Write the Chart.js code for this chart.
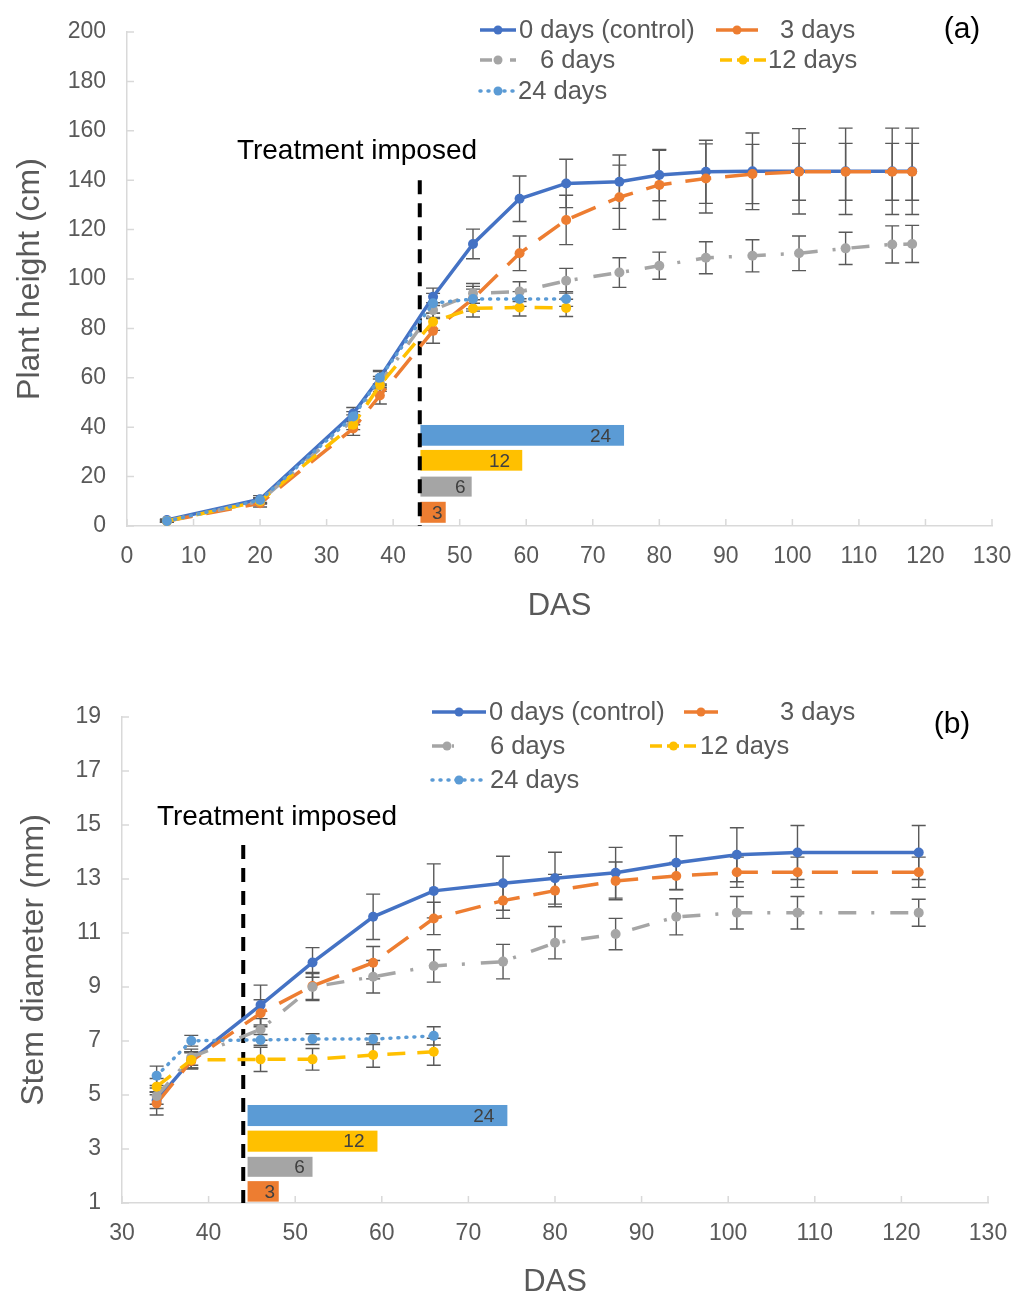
<!DOCTYPE html>
<html>
<head>
<meta charset="utf-8">
<script src="https://cdn.jsdelivr.net/npm/chart.js@4/dist/chart.umd.min.js"></script>
<style>
  body { margin: 0; background: #fff; }
  canvas { display: block; }
</style>
</head>
<body>
<canvas id="chartA" width="1018" height="650"></canvas>
<canvas id="chartB" width="1018" height="651"></canvas>
<script>
"use strict";

var seriesNames = ['0 days (control)', '3 days', '6 days', '12 days', '24 days'];

// (a) plant height, cm
var dasA = [6, 20, 34, 38, 46, 52, 59, 66, 74, 80, 87, 94, 101, 108, 115, 118];
var heightCtrl = [2.4, 10.8, 45.5, 60, 92.8, 114.2, 132.5, 138.7, 139.4, 142.1, 143.4, 143.6, 143.6, 143.6, 143.6, 143.6];
var height3 = [2, 9.2, 39.5, 52.8, 79, 92, 110.4, 123.9, 133.1, 138.1, 140.7, 142.5, 143.4, 143.4, 143.4, 143.4];
var height6 = [2, 10, 43, 58, 87.4, 94.2, 94.9, 99.3, 102.6, 105.4, 108.6, 109.4, 110.4, 112.4, 114, 114.2];
var height12 = [2, 10, 41, 57, 82.7, 88.1, 88.5, 88.3];
var height24 = [2, 10.5, 44.3, 60, 90.2, 91.9, 91.9, 91.9];
var errCtrlA = [0.5, 1.5, 2.5, 3, 3.5, 6, 9.2, 9.8, 10.8, 10.4, 12.8, 15.5, 17.3, 17.5, 17.5, 17.5];
var err3A = [0.5, 1.5, 2.8, 3.4, 5, 5, 7, 10, 13, 14, 14, 12, 11.5, 11.5, 11.5, 11.5];
var err6A = [0.5, 1, 2, 2.5, 3, 4, 4, 5, 6, 5.5, 6.5, 6.5, 7, 6.5, 7.5, 7.5];
var err12A = [0.5, 1, 2, 2.5, 3.5, 3.5, 3.5, 3.5];
var err24A = [0.5, 1, 2, 2.5, 4, 4, 3, 3];

// (b) stem diameter, mm
var dasB = [34, 38, 46, 52, 59, 66, 74, 80, 87, 94, 101, 108, 122];
var diamCtrl = [4.8, 6.3, 8.33, 9.91, 11.6, 12.56, 12.84, 13.03, 13.23, 13.6, 13.9, 13.98, 13.98];
var diam3 = [4.69, 6.26, 8.03, 9.04, 9.9, 11.54, 12.2, 12.57, 12.93, 13.11, 13.25, 13.25, 13.25];
var diam6 = [4.96, 6.4, 7.43, 9.0, 9.38, 9.78, 9.94, 10.64, 10.96, 11.6, 11.75, 11.75, 11.75];
var diam12 = [5.31, 6.3, 6.32, 6.32, 6.48, 6.6];
var diam24 = [5.71, 7.01, 7.04, 7.07, 7.07, 7.19];
var errCtrlB = [0.3, 0.3, 0.74, 0.55, 0.84, 1.0, 1.0, 0.96, 0.94, 1.0, 1.0, 1.0, 1.0];
var err3B = [0.43, 0.3, 0.5, 0.5, 0.6, 0.6, 0.66, 0.6, 0.7, 0.5, 0.56, 0.56, 0.56];
var err6B = [0.3, 0.3, 0.4, 0.5, 0.6, 0.6, 0.64, 0.6, 0.58, 0.67, 0.6, 0.6, 0.5];
var err12B = [0.3, 0.3, 0.45, 0.4, 0.45, 0.5];
var err24B = [0.36, 0.2, 0.2, 0.2, 0.2, 0.34];

// treatment duration bars (days), drawn from the day treatment was imposed
var treatDay = 44;
var barLabels = ['24', '12', '6', '3'];
var barStartA = 44.1;
var barEndA = [74.7, 59.4, 51.8, 47.9];
var barLowA = [32.5, 22.4, 11.9, 1.3];
var barHighA = [40.9, 30.8, 20, 9.8];
var barStartB = 44.5;
var barEndB = [74.5, 59.5, 52, 48.1];
var barLowB = [3.85, 2.9, 1.97, 1.05];
var barHighB = [4.63, 3.68, 2.71, 1.81];

var lineStyles = [
  { color: '#4472C4', dash: [], legendDash: [], cap: 'butt' },
  { color: '#ED7D31', dash: [26, 14], legendDash: [], cap: 'butt' },
  { color: '#A5A5A5', dash: [18, 15, 3, 16], legendDash: [12, 8, 2, 8], cap: 'butt' },
  { color: '#FFC000', dash: [18, 12], legendDash: [12, 5], cap: 'butt' },
  { color: '#5B9BD5', dash: [1, 7], legendDash: [1, 7], cap: 'round' }
];
var barColors = ['#5B9BD5', '#FFC000', '#A5A5A5', '#ED7D31'];
var FONT = '"Liberation Sans", Arial, sans-serif';
Chart.defaults.font.family = FONT;

function toPoints(xs, ys) {
  return ys.map(function(v, i) { return { x: xs[i], y: v }; });
}

function buildDatasets(xs, series) {
  return series.map(function(vals, i) {
    var st = lineStyles[i];
    return {
      label: seriesNames[i],
      data: toPoints(xs, vals),
      borderColor: st.color,
      backgroundColor: st.color,
      borderWidth: 3.5,
      borderDash: st.dash,
      borderCapStyle: st.cap,
      pointRadius: 5,
      pointBorderWidth: 0,
      pointBackgroundColor: st.color,
      tension: 0,
      order: 5 - i
    };
  });
}

// error bars, treatment line/bars, legend and labels
function decorPlugin(cfg) {
  return {
    id: 'decor',
    beforeDatasetsDraw: function(chart) {
      var ctx = chart.ctx, xs = chart.scales.x, ys = chart.scales.y;
      ctx.save();
      // duration bars
      for (var i = 0; i < barLabels.length; i++) {
        var x0 = xs.getPixelForValue(cfg.barStart), x1 = xs.getPixelForValue(cfg.barEnd[i]);
        var y0 = ys.getPixelForValue(cfg.barHigh[i]), y1 = ys.getPixelForValue(cfg.barLow[i]);
        ctx.fillStyle = barColors[i];
        ctx.fillRect(x0, y0, x1 - x0, y1 - y0);
        ctx.fillStyle = '#404040';
        ctx.font = '19px ' + FONT;
        ctx.textAlign = 'right';
        ctx.textBaseline = 'middle';
        var pad = Math.min(13, (x1 - x0) * 0.12);
        ctx.fillText(barLabels[i], x1 - pad, (y0 + y1) / 2 + 1);
      }
      // treatment imposed line
      var tx = xs.getPixelForValue(treatDay);
      ctx.strokeStyle = '#000';
      ctx.lineWidth = 4;
      ctx.setLineDash([14, 9]);
      ctx.beginPath();
      ctx.moveTo(tx, ys.getPixelForValue(cfg.lineTop));
      ctx.lineTo(tx, ys.bottom);
      ctx.stroke();
      ctx.setLineDash([]);
      ctx.fillStyle = '#000';
      ctx.font = '28px ' + FONT;
      ctx.textAlign = 'center';
      ctx.textBaseline = 'middle';
      ctx.fillText('Treatment imposed', cfg.treatText[0], cfg.treatText[1]);
      // error bars
      ctx.strokeStyle = '#595959';
      ctx.lineWidth = 1.4;
      cfg.errs.forEach(function(errs, s) {
        var vals = cfg.series[s];
        errs.forEach(function(e, k) {
          var px = xs.getPixelForValue(cfg.das[k]);
          var top = ys.getPixelForValue(vals[k] + e), bot = ys.getPixelForValue(vals[k] - e);
          ctx.beginPath();
          ctx.moveTo(px, top); ctx.lineTo(px, bot);
          ctx.moveTo(px - 7, top); ctx.lineTo(px + 7, top);
          ctx.moveTo(px - 7, bot); ctx.lineTo(px + 7, bot);
          ctx.stroke();
        });
      });
      ctx.restore();
    },
    afterDraw: function(chart) {
      var ctx = chart.ctx, xs = chart.scales.x, ys = chart.scales.y;
      ctx.save();
      // inside tick marks
      ctx.strokeStyle = '#d9d9d9';
      ctx.lineWidth = 1.5;
      ctx.beginPath();
      xs.ticks.forEach(function(t) {
        var p = xs.getPixelForValue(t.value);
        ctx.moveTo(p, ys.bottom); ctx.lineTo(p, ys.bottom - 7);
      });
      ys.ticks.forEach(function(t) {
        var p = ys.getPixelForValue(t.value);
        ctx.moveTo(xs.left, p); ctx.lineTo(xs.left + 7, p);
      });
      ctx.stroke();
      // legend
      ctx.font = '25.5px ' + FONT;
      ctx.textBaseline = 'middle';
      ctx.textAlign = 'left';
      cfg.legend.forEach(function(it, i) {
        var st = lineStyles[i];
        ctx.strokeStyle = st.color;
        ctx.lineWidth = 3.5;
        ctx.lineCap = st.cap;
        ctx.setLineDash(st.legendDash);
        ctx.beginPath();
        ctx.moveTo(it[0], it[2]); ctx.lineTo(it[1], it[2]);
        ctx.stroke();
        ctx.setLineDash([]);
        ctx.fillStyle = st.color;
        ctx.beginPath();
        ctx.arc((it[0] + it[1]) / 2, it[2], 4.5, 0, Math.PI * 2);
        ctx.fill();
        ctx.fillStyle = '#595959';
        ctx.fillText(seriesNames[i], it[3], it[2] + 1);
      });
      ctx.fillStyle = '#000';
      ctx.font = '30px ' + FONT;
      ctx.textAlign = 'center';
      ctx.fillText(cfg.tag, cfg.tagPos[0], cfg.tagPos[1]);
      ctx.restore();
    }
  };
}

function buildOptions(p) {
  return {
    responsive: false,
    animation: false,
    devicePixelRatio: 1,
    layout: { padding: { top: p.padTop, right: p.padRight, left: 0, bottom: 0 } },
    plugins: { legend: { display: false }, tooltip: { enabled: false } },
    scales: {
      x: {
        type: 'linear', min: p.xMin, max: p.xMax,
        ticks: { stepSize: 10, autoSkip: false, maxRotation: 0, color: '#595959', font: { size: 23 }, padding: 17 },
        grid: { display: false, drawTicks: false },
        border: { color: '#d9d9d9', width: 1.5 },
        title: { display: true, text: 'DAS', color: '#595959', font: { size: 31 }, padding: { top: 0, bottom: p.xTitlePad } },
        afterFit: function(s) { s.height = p.xHeight; s.paddingLeft = 0; s.paddingRight = 0; }
      },
      y: {
        type: 'linear', min: p.yMin, max: p.yMax,
        ticks: { stepSize: p.yStep, autoSkip: false, color: '#595959', font: { size: 23 }, padding: 21 },
        grid: { display: false, drawTicks: false },
        border: { color: '#d9d9d9', width: 1.5 },
        title: { display: true, text: p.yTitle, color: '#595959', font: { size: 32 }, padding: { top: p.yTitlePad, bottom: 0 } },
        afterFit: function(s) { s.width = p.yWidth; s.paddingTop = 0; s.paddingBottom = 0; }
      }
    }
  };
}

new Chart(document.getElementById('chartA'), {
  type: 'line',
  data: { datasets: buildDatasets(dasA, [heightCtrl, height3, height6, height12, height24]) },
  options: buildOptions({ padTop: 32, padRight: 26, xMin: 0, xMax: 130, yMin: 0, yMax: 200, yStep: 20,
    yTitle: 'Plant height (cm)', xHeight: 124, yWidth: 127, xTitlePad: 25, yTitlePad: 11 }),
  plugins: [decorPlugin({
    das: dasA,
    series: [heightCtrl, height3, height6, height12, height24],
    errs: [errCtrlA, err3A, err6A, err12A, err24A],
    barStart: barStartA, barEnd: barEndA, barLow: barLowA, barHigh: barHighA,
    lineTop: 140, treatText: [357, 151],
    legend: [[480, 516, 30, 519], [716, 758, 30, 780], [480, 516, 60, 540], [720, 766, 60, 768], [480, 516, 91, 518]],
    tag: '(a)', tagPos: [962, 30]
  })]
});

new Chart(document.getElementById('chartB'), {
  type: 'line',
  data: { datasets: buildDatasets(dasB, [diamCtrl, diam3, diam6, diam12, diam24]) },
  options: buildOptions({ padTop: 67, padRight: 30, xMin: 30, xMax: 130, yMin: 1, yMax: 19, yStep: 2,
    yTitle: 'Stem diameter (mm)', xHeight: 98, yWidth: 122, xTitlePad: 0, yTitlePad: 15 }),
  plugins: [decorPlugin({
    das: dasB,
    series: [diamCtrl, diam3, diam6, diam12, diam24],
    errs: [errCtrlB, err3B, err6B, err12B, err24B],
    barStart: barStartB, barEnd: barEndB, barLow: barLowB, barHigh: barHighB,
    lineTop: 14.26, treatText: [277, 167],
    legend: [[432, 486, 62, 489], [684, 718, 62, 780], [432, 462, 96, 490], [650, 697, 96, 700], [432, 486, 130, 490]],
    tag: '(b)', tagPos: [952, 75]
  })]
});
</script>
</body>
</html>
